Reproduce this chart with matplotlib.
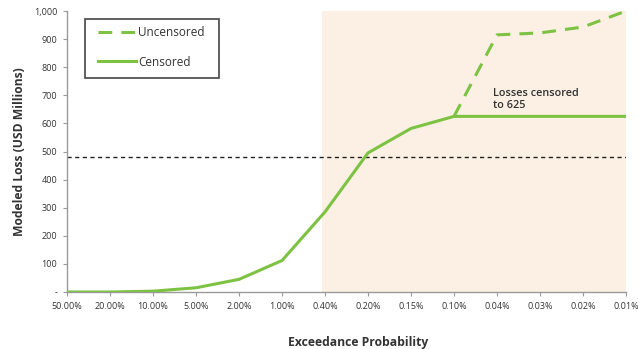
import numpy as np
import matplotlib.pyplot as plt
from matplotlib.patches import Rectangle

plt.rcParams['font.family'] = ['Open Sans', 'DejaVu Sans']

probs = ['50.00%', '20.00%', '10.00%', '5.00%', '2.00%', '1.00%', '0.40%',
         '0.20%', '0.15%', '0.10%', '0.04%', '0.03%', '0.02%', '0.01%']
censored = [0, 0, 3, 15, 45, 112, 285, 495, 582, 625, 625, 625, 625, 625]
uncensored = [625, 915, 922, 943, 1000]   # from 0.10% onwards
threshold = 480
cap = 625

green = '#7dc242'
grey = '#9a9a9a'

fig = plt.figure(figsize=(6.38, 3.49), dpi=100)
ax = fig.add_axes([67 / 638, 57 / 349, 559 / 638, 281 / 349])

x = np.arange(len(probs))
ax.axvspan(5.93, 13.03, color='#fbf0e3', zorder=0, lw=0)
ax.plot(x, censored, color=green, lw=2.2, zorder=3, label='Censored')
ax.plot(x[9:], uncensored, color=green, lw=2.2, ls=(0, (4.5, 3)), zorder=3,
        label='Uncensored')
ax.axhline(threshold, color='#222222', lw=1, ls=(0, (3, 2.5)), zorder=2)

ax.text(9.9, 644, 'Losses censored\nto ' + str(cap), fontsize=7.8,
        fontweight='semibold', color='#333333', linespacing=1.15, va='bottom')

ax.set_xlim(0, 13)
ax.set_ylim(0, 1000)
ax.set_xticks(x)
ax.set_xticklabels(probs)
ax.set_yticks(np.arange(0, 1001, 100))
ax.set_yticklabels(['-'] + ['{:,}'.format(v) for v in range(100, 1001, 100)])
ax.tick_params(labelsize=6.5, colors='#333333', length=3, width=0.8,
               color=grey, pad=4)
for s in ['top', 'right']:
    ax.spines[s].set_visible(False)
for s in ['left', 'bottom']:
    ax.spines[s].set_color(grey)
    ax.spines[s].set_linewidth(1)

ax.set_ylabel('Modeled Loss (USD Millions)', fontsize=8.7, fontweight='bold',
              color='#333333', labelpad=6)
ax.set_xlabel('Exceedance Probability', fontsize=8.7, fontweight='bold',
              color='#333333', labelpad=18)
ax.xaxis.label.set_x(0.52)

# legend with a hand-placed frame
h, l = ax.get_legend_handles_labels()
leg = fig.legend(h[::-1], l[::-1], loc='upper left',
                 bbox_to_anchor=(98 / 638, 1 - 26 / 349), fontsize=8.5,
                 frameon=False, handlelength=3.2, handletextpad=0.2,
                 labelspacing=1.4, borderpad=0, borderaxespad=0)
for t in leg.get_texts():
    t.set_color('#333333')
fig.patches.append(Rectangle((85 / 638, 1 - 78 / 349), 134 / 638, 59 / 349,
                             transform=fig.transFigure, fill=False,
                             edgecolor='#444444', lw=1.2, zorder=5))

fig.savefig('out.png', dpi=100)
